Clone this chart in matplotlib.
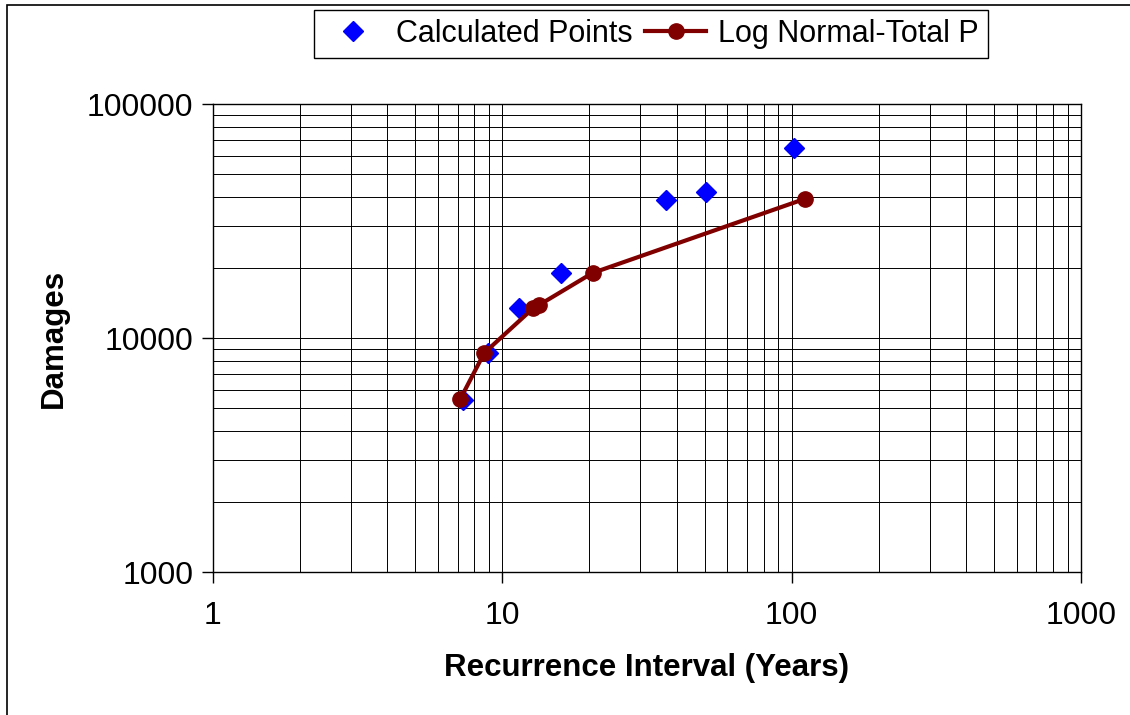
import matplotlib.pyplot as plt
from matplotlib.patches import Rectangle
from matplotlib.ticker import FixedLocator, FixedFormatter, NullFormatter, LogLocator

plt.rcParams['font.family'] = ['Liberation Sans', 'DejaVu Sans']

# calculated points
calc_x = [7.3, 8.9, 11.4, 15.9, 36.9, 50.4, 101.6]
calc_y = [5430, 8630, 13430, 18960, 38900, 42100, 64900]

# log normal fit (total P)
ln_x = [7.16, 8.66, 12.8, 13.4, 20.5, 110.9]
ln_y = [5490, 8630, 13430, 13840, 18960, 39300]

x_ticks = [1, 10, 100, 1000]
y_ticks = [1000, 10000, 100000]

fig = plt.figure(figsize=(11.3, 7.15), dpi=100)
ax = fig.add_axes([213 / 1130, 1 - 572 / 715, 868 / 1130, 468 / 715])

ax.set_xscale('log')
ax.set_yscale('log')
ax.set_xlim(1, 1000)
ax.set_ylim(1000, 100000)

ax.plot(calc_x, calc_y, linestyle='none', marker='D', markersize=10,
        color='#0000FF', label='Calculated Points', zorder=3)
ax.plot(ln_x, ln_y, color='#800000', linewidth=3, marker='o', markersize=11,
        label='Log Normal-Total P', zorder=4)

# grid on every decade subdivision
ax.xaxis.set_major_locator(FixedLocator(x_ticks))
ax.xaxis.set_major_formatter(FixedFormatter([str(v) for v in x_ticks]))
ax.yaxis.set_major_locator(FixedLocator(y_ticks))
ax.yaxis.set_major_formatter(FixedFormatter([str(v) for v in y_ticks]))
ax.xaxis.set_minor_locator(LogLocator(base=10, subs=range(2, 10)))
ax.yaxis.set_minor_locator(LogLocator(base=10, subs=range(2, 10)))
ax.xaxis.set_minor_formatter(NullFormatter())
ax.yaxis.set_minor_formatter(NullFormatter())
ax.grid(True, which='both', color='black', linewidth=0.7)
ax.set_axisbelow(True)

ax.tick_params(which='major', direction='out', length=8, width=1, labelsize=23)
ax.tick_params(which='minor', length=0)
ax.tick_params(axis='x', pad=13)
ax.tick_params(axis='y', pad=6)
for s in ax.spines.values():
    s.set_color('black')
    s.set_linewidth(1)

ax.set_xlabel('Recurrence Interval (Years)', fontsize=22.5, fontweight='bold', labelpad=16)
ax.set_ylabel('Damages', fontsize=22.5, fontweight='bold', labelpad=13)

fig.legend(loc='center', bbox_to_anchor=(651 / 1130, 1 - 34 / 715), ncol=2,
           fontsize=22, frameon=True, fancybox=False, edgecolor='black',
           framealpha=1, handlelength=2.0, handletextpad=0.4, columnspacing=0.4,
           borderpad=0.3)

# chart border (right and bottom edges fall outside the picture)
fig.patches.append(Rectangle((7 / 1130, -0.1), 1.2, 1 - 5 / 715 + 0.1,
                             transform=fig.transFigure, fill=False,
                             edgecolor='black', linewidth=1.2))

fig.savefig('out.png', dpi=100)
